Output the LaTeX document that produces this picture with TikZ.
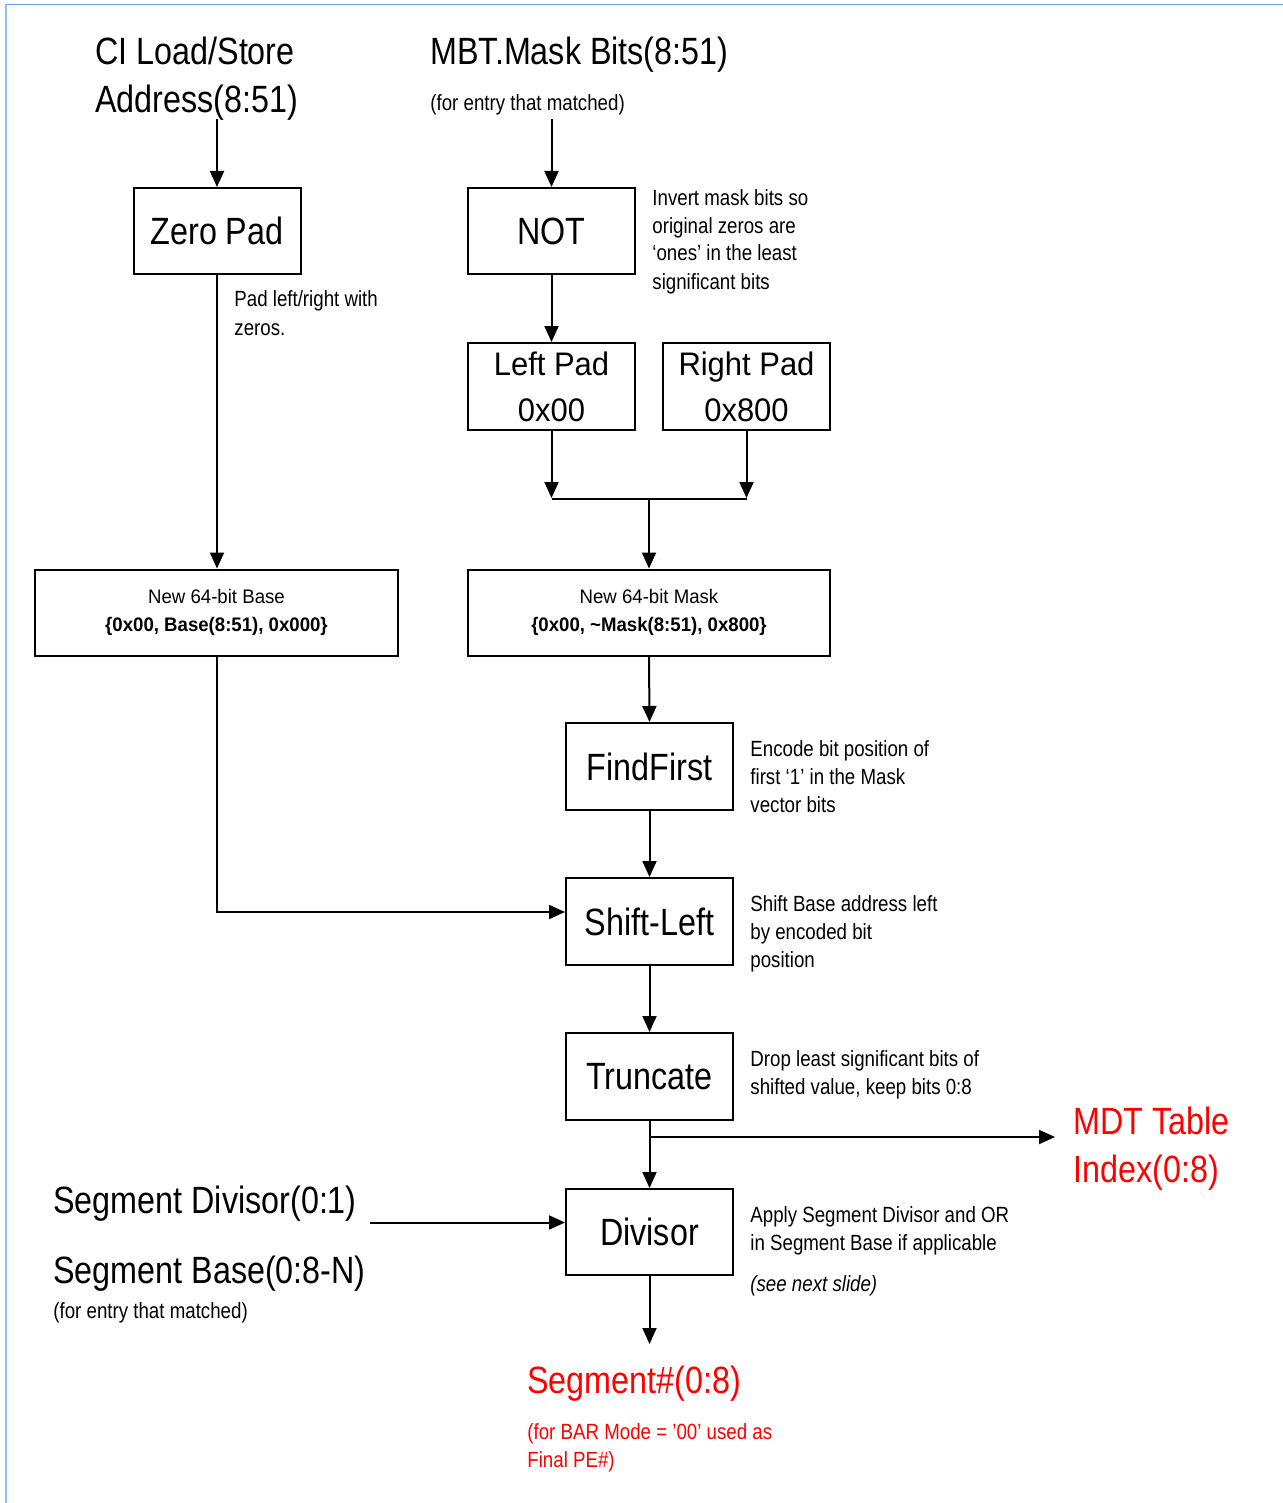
\documentclass[tikz,border=0pt]{standalone}
\usepackage{fontspec}
\setmainfont{Liberation Sans}[FakeStretch=0.85]
\newfontfamily\widefont{Liberation Sans}[FakeStretch=0.95]
\usetikzlibrary{arrows.meta}

\definecolor{framebl}{RGB}{100,160,230}
\definecolor{frameblt}{RGB}{145,192,236}
\definecolor{hotred}{RGB}{255,0,0}

\newcommand\bigtxt{\fontsize{19pt}{24pt}\selectfont}
\newcommand\padtxt{\widefont\fontsize{16.3pt}{23pt}\selectfont}
\newcommand\notetxt{\fontsize{11pt}{14pt}\selectfont}
\newcommand\basetxt{\widefont\fontsize{9.8pt}{14pt}\selectfont}

\begin{document}
\begin{tikzpicture}[x=0.5pt,y=-0.5pt,
  box/.style={draw,line width=1pt,inner sep=0pt,align=center},
  smallbox/.style={box,minimum width=83.5pt,minimum height=43.5pt,font=\bigtxt},
  padbox/.style={box,minimum width=83.5pt,minimum height=43.5pt,font=\padtxt},
  widebox/.style={box,minimum width=181.5pt,minimum height=43pt,font=\basetxt},
  lbl/.style={anchor=base west,inner sep=0pt,align=left},
  arr/.style={line width=1pt,-{Triangle[length=8pt,width=7pt]}},
  wire/.style={line width=1pt}]

\useasboundingbox (0,0) rectangle (1283,1503);

% frame edges
\draw[framebl,line width=0.8pt] (5,4.5) -- (1283,4.5);
\draw[frameblt,line width=0.9pt] (6,4) -- (6,1503);

% input labels (multi-line labels sit on the baseline of their last line)
\node[lbl,font=\bigtxt] (addr) at (95,113) {CI Load/Store\\Address(8:51)};
\node[lbl,font=\bigtxt] (mbt) at (430,65) {MBT.Mask Bits(8:51)};
\node[lbl,font=\notetxt] (mbtnote) at (430,111) {(for entry that matched)};

% processing blocks
\node[smallbox,minimum height=43pt] (zero) at (217,231) {Zero Pad};
\node[smallbox,minimum height=43pt] (not) at (551.5,231) {NOT};
\node[padbox] (lpad) at (551.5,386.5) {Left Pad\\0x00};
\node[padbox] (rpad) at (746.5,386.5) {Right Pad\\0x800};
\node[widebox] (base) at (216.5,612.5) {New 64-bit Base\\\textbf{\{0x00, Base(8:51), 0x000\}}};
\node[widebox,minimum width=181pt] (mask) at (649,612.5) {New 64-bit Mask\\\textbf{\{0x00, \textasciitilde Mask(8:51), 0x800\}}};
\node[smallbox] (find) at (649.5,766.5) {FindFirst};
\node[smallbox] (shift) at (649.5,921.5) {Shift-Left};
\node[smallbox] (trunc) at (649.5,1076.5) {Truncate};
\node[smallbox,minimum height=43pt] (div) at (649.5,1232) {Divisor};

% annotations
\node[lbl,font=\notetxt] (padnote) at (234,335) {Pad left/right with\\zeros.};
\node[lbl,font=\notetxt] (notnote) at (652,289) {Invert mask bits so\\original zeros are\\‘ones’ in the least\\significant bits};
\node[lbl,font=\notetxt] (findnote) at (750,812) {Encode bit position of\\first ‘1’ in the Mask\\vector bits};
\node[lbl,font=\notetxt] (shiftnote) at (750,967) {Shift Base address left\\by encoded bit\\position};
\node[lbl,font=\notetxt] (truncnote) at (750,1094.5) {Drop least significant bits of\\shifted value, keep bits 0:8};
\node[lbl,font=\notetxt] (divnote) at (750,1250) {Apply Segment Divisor and OR\\in Segment Base if applicable};
\node[lbl,font=\notetxt\itshape] (divref) at (750,1291.5) {(see next slide)};

% side inputs and outputs
\node[lbl,font=\bigtxt,text=hotred] (mdt) at (1073,1182) {MDT Table\\Index(0:8)};
\node[lbl,font=\bigtxt] (segdiv) at (53,1213) {Segment Divisor(0:1)};
\node[lbl,font=\bigtxt] (segbase) at (53,1283) {Segment Base(0:8-N)};
\node[lbl,font=\notetxt] (segnote) at (53,1318) {(for entry that matched)};
\node[lbl,font=\bigtxt,text=hotred] (segout) at (527,1393) {Segment\#(0:8)};
\node[lbl,font=\notetxt,text=hotred] (segoutnote) at (527,1467) {(for BAR Mode = ’00’ used as\\Final PE\#)};

% connector end points
\coordinate (addrsrc) at (217,119);
\coordinate (mbtsrc) at (551.5,119);
\coordinate (join) at (649,498);
\coordinate (branch) at (649.5,1137);
\coordinate (mdtin) at (1055,1137);
\coordinate (segsrc) at (370,1222.5);
\coordinate (segend) at (649.5,1344);

% connectors
\draw[arr] (addrsrc) -- (zero.north);
\draw[arr] (mbtsrc) -- (not.north);
\draw[arr] (zero.south) -- (base.north -| zero.south);
\draw[arr] (not.south) -- (lpad.north);
\draw[arr] (lpad.south) -- (lpad.south |- join);
\draw[arr] (rpad.south) -- (rpad.south |- join);
\draw[wire] ([yshift=-0.5pt]lpad.south |- join) -- ([yshift=-0.5pt]rpad.south |- join);
\draw[arr] (join) -- (mask.north);
\draw[arr] (mask.south) -- (find.north);
\draw[arr] (find.south) -- (shift.north);
\draw[arr] (base.south) |- ([yshift=4.75pt]shift.west);
\draw[arr] (shift.south) -- (trunc.north);
\draw[arr] (trunc.south) -- (div.north);
\draw[arr] (branch) -- (mdtin);
\draw[arr] (segsrc) -- (segsrc -| div.west);
\draw[arr] (div.south) -- (segend);

\end{tikzpicture}
\end{document}
